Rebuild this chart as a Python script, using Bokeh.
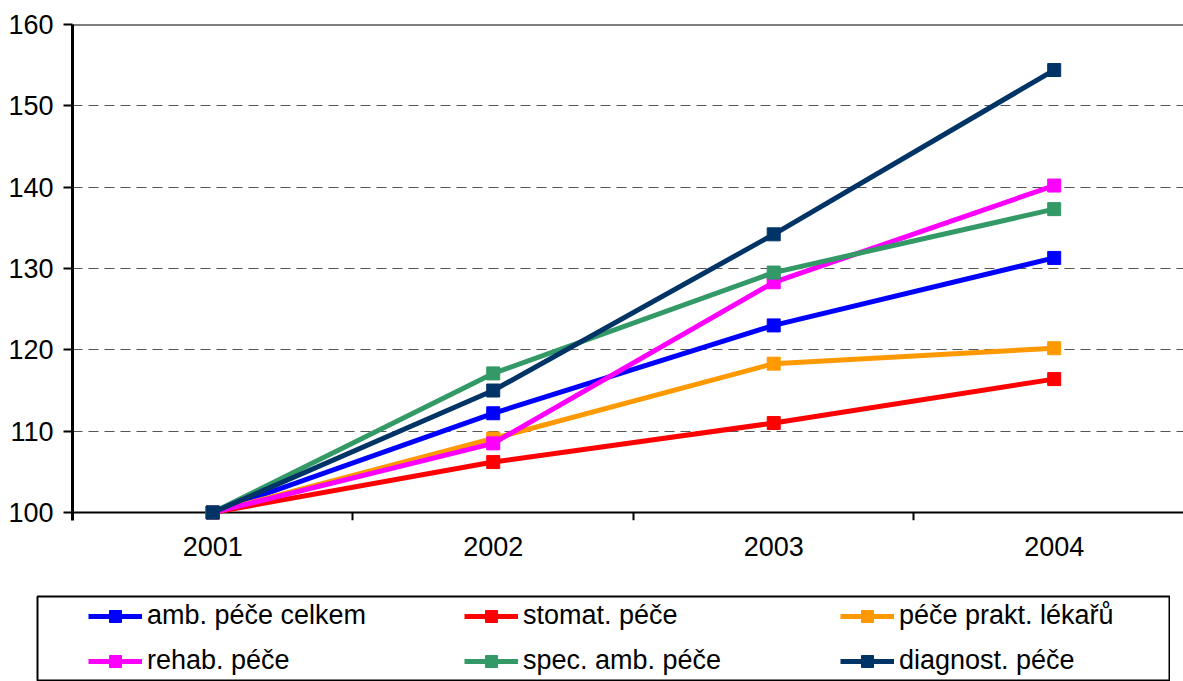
import numpy as np
from bokeh.plotting import figure
from bokeh.layouts import column
from bokeh.models import (Range1d, FixedTicker, Span, Legend, LegendItem,
                          ColumnDataSource, LinearAxis)
from bokeh.embed import file_html
from bokeh.resources import INLINE

# ---- data -------------------------------------------------------------
years = ["2001", "2002", "2003", "2004"]
amb_celkem = [100.0, 112.2, 123.0, 131.3]
stomat = [100.0, 106.2, 111.0, 116.4]
prakt = [100.0, 109.1, 118.3, 120.2]
rehab = [100.0, 108.5, 128.3, 140.2]
spec_amb = [100.0, 117.1, 129.5, 137.3]
diagnost = [100.0, 115.0, 134.2, 154.4]

series_names = ["amb. péče celkem", "stomat. péče", "péče prakt. lékařů",
                "rehab. péče", "spec. amb. péče", "diagnost. péče"]
series_values = [amb_celkem, stomat, prakt, rehab, spec_amb, diagnost]
series_colors = ["#0000FF", "#FF0000", "#FF9900", "#FF00FF", "#339966", "#003366"]

y_ticks = [100, 110, 120, 130, 140, 150, 160]
y_min, y_max = 100, 160

FONT = "Liberation Sans"
FS = "27px"

# ---- main chart -------------------------------------------------------
centers = np.arange(len(years)) + 0.5
bounds = np.arange(1, len(years))

# frame reaches 8 px below the 100 line, so the category ticks and the
# first markers fit inside it
p = figure(width=1183, height=595,
           x_range=Range1d(0, 3.961), y_range=Range1d(99.0164, y_max),
           output_backend="svg", toolbar_location=None,
           min_border_left=72, min_border_right=0,
           min_border_top=24, min_border_bottom=75)
p.frame_align = False
p.outline_line_color = None
p.background_fill_color = "white"
p.border_fill_color = "white"

# axis A: category labels only
xa = p.xaxis[0]
xa.ticker = FixedTicker(ticks=list(centers))
xa.major_label_overrides = {float(c): y for c, y in zip(centers, years)}
xa.major_tick_out = 0
xa.major_tick_in = 0
xa.minor_tick_out = 0
xa.minor_tick_in = 0
xa.axis_line_color = None
xa.major_label_standoff = 16
xa.major_label_text_font = FONT
xa.major_label_text_font_size = FS
xa.major_label_text_color = "black"

# axis B: the baseline at 100 with tick marks between categories
xb = LinearAxis(fixed_location=y_min,
                ticker=FixedTicker(ticks=[], minor_ticks=list(bounds)))
xb.level = "underlay"
xb.major_tick_out = 0
xb.major_tick_in = 0
xb.minor_tick_out = 8
xb.minor_tick_in = 0
xb.minor_tick_line_color = "black"
xb.minor_tick_line_width = 2
xb.axis_line_color = "black"
xb.axis_line_width = 2
xb.major_label_standoff = 0
xb.major_label_text_font_size = "1px"
xb.major_label_text_alpha = 0
p.add_layout(xb, "below")

ya = p.yaxis[0]
ya.ticker = FixedTicker(ticks=y_ticks)
ya.major_tick_out = 9
ya.major_tick_in = 0
ya.minor_tick_out = 0
ya.minor_tick_in = 0
ya.major_tick_line_color = "black"
ya.major_tick_line_width = 2
ya.axis_line_color = "black"
ya.axis_line_width = 3
ya.major_label_standoff = 10
ya.major_label_text_font = FONT
ya.major_label_text_font_size = FS
ya.major_label_text_color = "black"

p.xgrid.visible = False
p.ygrid.ticker = FixedTicker(ticks=[t for t in y_ticks if y_min < t < y_max])
p.ygrid.grid_line_color = "#555555"
p.ygrid.grid_line_dash = "10 6"
p.ygrid.grid_line_width = 1

p.add_layout(Span(location=y_max, dimension="width",
                  line_color="black", line_width=2))

sources = []
for vals, col in zip(series_values, series_colors):
    src = ColumnDataSource(dict(x=centers, y=vals))
    sources.append(src)
    p.line("x", "y", source=src, line_color=col, line_width=5)
    p.scatter("x", "y", source=src, marker="square", size=13,
              fill_color=col, line_color=col)

# ---- legend box (separate panel below the chart) ---------------------
pl = figure(width=1134, height=86, x_range=Range1d(0, 1), y_range=Range1d(0, 1),
            x_axis_type=None, y_axis_type=None,
            output_backend="svg", toolbar_location=None,
            min_border_left=1, min_border_right=1, min_border_top=1,
            min_border_bottom=0)
pl.frame_align = False
pl.margin = (0, 0, 0, 36)
pl.grid.visible = False
pl.outline_line_color = "black"
pl.outline_line_width = 2
pl.background_fill_color = "white"
pl.border_fill_color = "white"

items = []
for name, src, col in zip(series_names, sources, series_colors):
    rl = pl.line("x", "y", source=src, line_color=col, line_width=5, visible=False)
    rs = pl.scatter("x", "y", source=src, marker="square", size=13,
                    fill_color=col, line_color=col, visible=False)
    items.append(LegendItem(label=name, renderers=[rl, rs]))

legend = Legend(items=items, location=(51, 5),
                orientation="horizontal", ncols=3,
                border_line_color=None, background_fill_alpha=0,
                inactive_fill_alpha=0,
                label_text_font=FONT, label_text_font_size=FS,
                label_text_color="black",
                glyph_width=54, glyph_height=30, label_height=30,
                label_width=303, label_standoff=5, spacing=14,
                padding=0, margin=0)
pl.add_layout(legend)

layout = column(p, pl, spacing=0)
open("out.html", "w").write(file_html(layout, INLINE))
